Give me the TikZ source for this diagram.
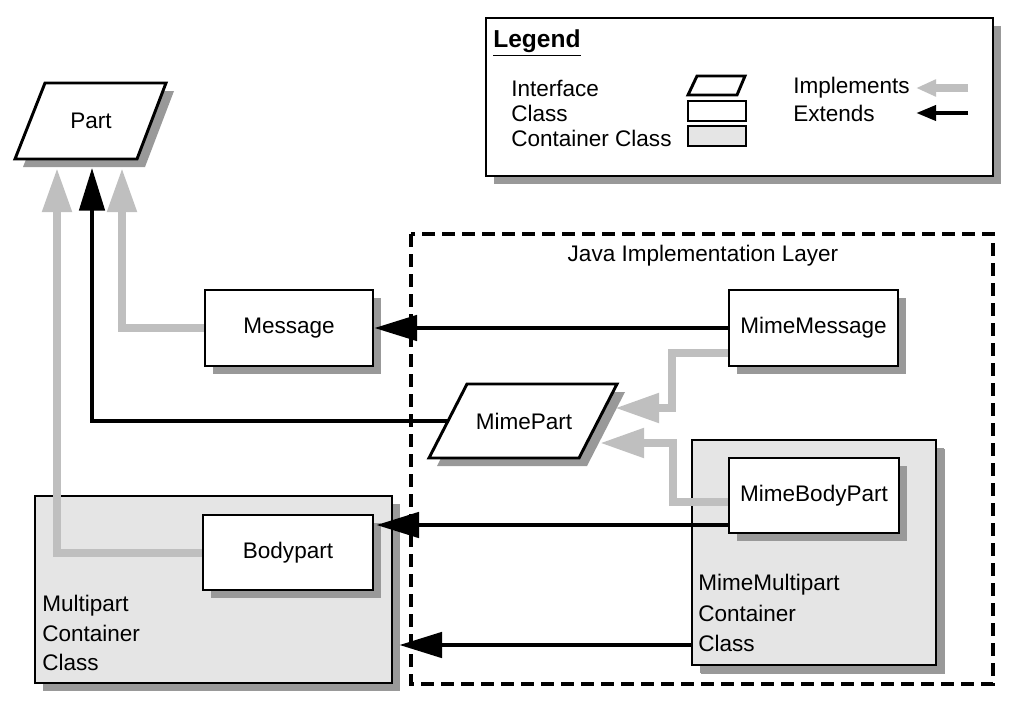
\documentclass[tikz,border=0pt]{standalone}
\usepackage{fontspec}
\setmainfont{Liberation Sans}
\usetikzlibrary{arrows.meta,shadows,calc}
\begin{document}
\begin{tikzpicture}[x=0.75pt,y=-0.75pt,
  font=\fontsize{16.9}{20}\selectfont,
  shad/.style={drop shadow={shadow xshift=6pt,shadow yshift=-6pt,fill=black!40,opacity=1}},
  cls/.style={draw=black,line width=2.2pt,fill=white,inner sep=0pt,shad},
  cont/.style={draw=black,line width=2.2pt,fill=black!10,inner sep=0pt,shad},
  shadowfill/.style={fill=black!40},
  iface/.style={draw=black,line width=2.2pt,fill=white,line join=miter},
  impl/.style={color=black!25,line width=6pt,-{Triangle[length=33pt,width=21pt]}},
  ext/.style={color=black,line width=3pt,-{Triangle[length=32pt,width=19pt]}},
  limpl/.style={color=black!25,line width=6pt,-{Triangle[length=15pt,width=12pt]}},
  lext/.style={color=black,line width=3.4pt,-{Triangle[length=15pt,width=11pt]}},
  txt/.style={inner sep=0pt,anchor=west,align=left},
  layer/.style={draw=black,line width=3.5pt,dash pattern=on 9.5pt off 5.5pt}
]
\useasboundingbox (0,0) rectangle (1029,711);

% ---------- Legend ----------
\node[cls,minimum width=380.25pt,minimum height=118.5pt] (legend) at (739.5,97) {};
\node[txt,font=\fontsize{18.4}{22}\selectfont] (legtitle) at (493,43) {\underline{\textbf{Legend}}};
\node[txt] (lint) at (511,88) {Interface};
\node[txt] (lcls) at (511,113) {Class};
\node[txt] (lcont) at (511,138) {Container Class};
\draw[iface] (697,76) -- (745,76) -- (737,95) -- (688,95) -- cycle;
\node[draw=black,line width=2.2pt,fill=white,inner sep=0pt,minimum width=43.5pt,minimum height=15pt] (licls) at (717,111) {};
\node[draw=black,line width=2.2pt,fill=black!10,inner sep=0pt,minimum width=43.5pt,minimum height=15pt] (licont) at (717,136) {};
\node[txt] (limpltxt) at (793,88) {Implements};
\node[txt] (lexttxt) at (793,113) {Extends};
\coordinate (la1) at (968,88);
\coordinate (la2) at (916,88);
\coordinate (lb1) at (968,113);
\coordinate (lb2) at (916,113);
\draw[limpl] (la1) -- (la2);
\draw[lext] (lb1) -- (lb2);

% ---------- Part interface ----------
\fill[shadowfill] (53,91) -- (174,91) -- (145,167) -- (23,167) -- cycle;
\draw[iface] (45,83) -- (166,83) -- (137,159) -- (15,159) -- cycle;
\node (part) at (91,121) {Part};
\coordinate (p1) at (57,168);
\coordinate (p2) at (92,168);
\coordinate (p3) at (122,168);

% ---------- Containers ----------
\node[cont,minimum width=267.75pt,minimum height=140.25pt] (multipart) at (213.5,589.5) {};
\node[txt] (multitxt) at (42,633) {Multipart\\[2.3pt]Container\\[2.3pt]Class};
\node[cont,minimum width=183pt,minimum height=168.75pt,drop shadow={shadow xshift=7pt,shadow yshift=-7pt,fill=black!40,opacity=1}] (mimemulti) at (814,552.5) {};
\node[txt] (mimemultitxt) at (698,613) {MimeMultipart\\[2.8pt]Container\\[2.8pt]Class};

% ---------- Classes ----------
\node[cls,minimum width=126pt,minimum height=57pt] (message) at (289,328) {Message};
\node[cls,minimum width=126.75pt,minimum height=57pt] (mimemessage) at (813.5,328) {MimeMessage};
\node[cls,minimum width=127.5pt,minimum height=56.25pt] (bodypart) at (288,552.5) {Bodypart};
\node[cls,minimum width=127.5pt,minimum height=56.25pt] (mimebodypart) at (814,495.5) {MimeBodyPart};

% ---------- MimePart interface ----------
\fill[shadowfill] (475,392) -- (625,392) -- (587,466) -- (437,466) -- cycle;
\draw[iface] (467,384) -- (617,384) -- (579,458) -- (429,458) -- cycle;
\node (mimepart) at (524,421) {MimePart};
\coordinate (mpw) at (448,421);
\coordinate (mpa) at (615,408);
\coordinate (mpb) at (600,443);

% ---------- Java layer ----------
\draw[layer] (411,234) rectangle (993,684);
\node (layertitle) at (703,256) {Java Implementation Layer};

% ---------- Connectors ----------
\draw[impl] (bodypart.west) -| (p1);
\draw[impl] (message.west) -| (p3);
\draw[ext] (mpw) -| (p2);
\draw[ext] (mimemessage.west) -- (message.east);
\draw[ext] ($(mimebodypart.west)+(0,29.5)$) -- ($(bodypart.east)+(2,-27.5)$);
\draw[ext] ($(mimemulti.west)+(0,92.5)$) -- ($(multipart.east)+(6,55.5)$);
\draw[impl] ($(mimemessage.west)+(0,25)$) -| ($(mpa)+(57,0)$) -- (mpa);
\draw[impl] ($(mimebodypart.west)+(0,6.5)$) -| ($(mpb)+(73,0)$) -- (mpb);
\end{tikzpicture}
\end{document}
